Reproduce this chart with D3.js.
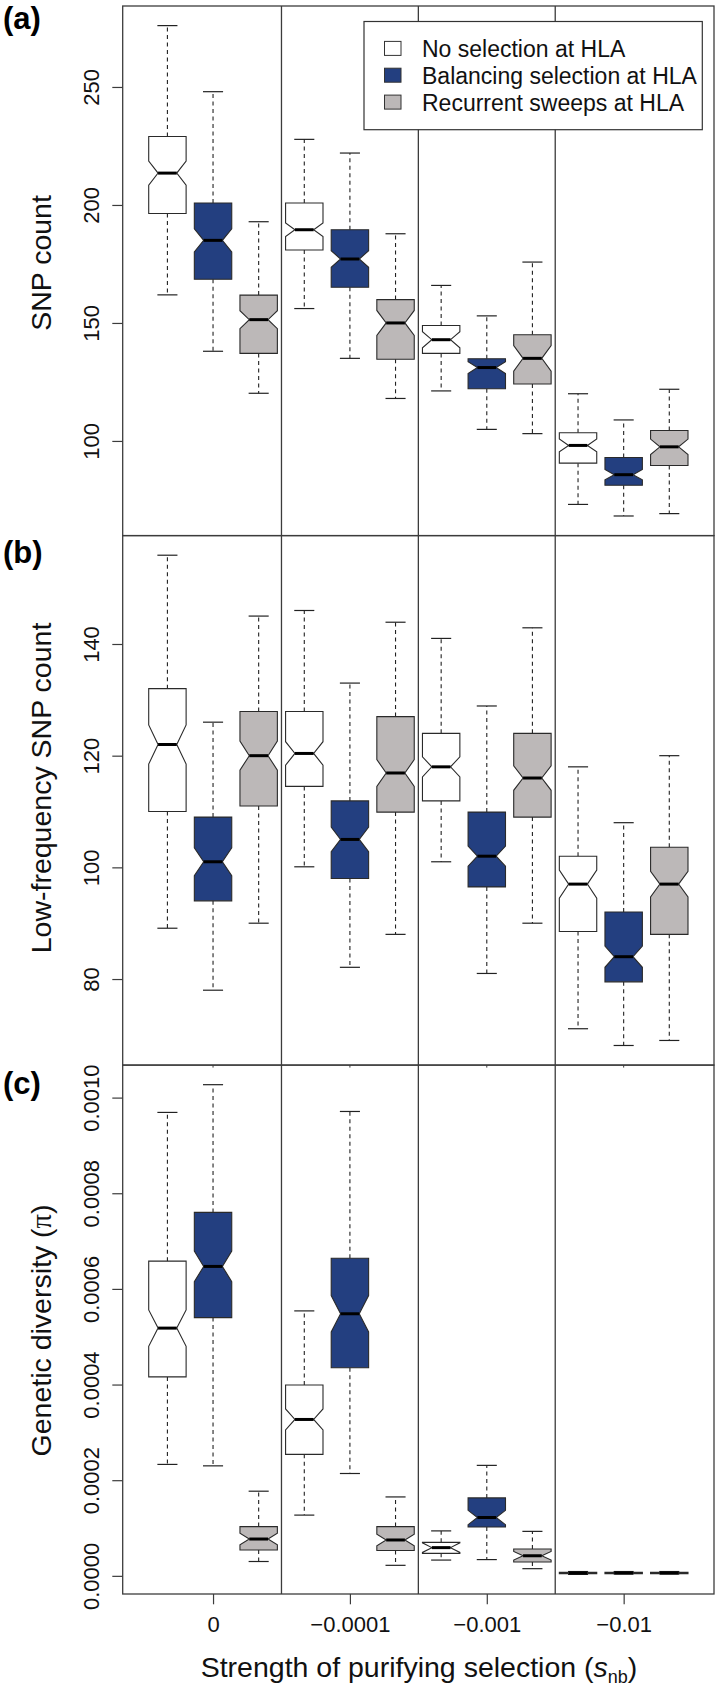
<!DOCTYPE html>
<html>
<head>
<meta charset="utf-8">
<script src="https://cdn.jsdelivr.net/npm/d3@7"></script>
<style>
  body { margin: 0; background: #fff; }
  text { font-family: "Liberation Sans", Arial, Helvetica, sans-serif; }
</style>
</head>
<body>
<svg id="chart" width="720" height="1691"></svg>
<script>
// ---------------- DATA ----------------
const groups = ["0", "\u22120.0001", "\u22120.001", "\u22120.01"];
const seriesNames = ["No selection at HLA", "Balancing selection at HLA", "Recurrent sweeps at HLA"];
// box order: for each group -> [No selection, Balancing, Recurrent sweeps]

// (a) SNP count
const snpLow   = [161.9, 138.0, 120.2, 156.1, 135.0, 118.0, 121.2, 104.9, 103.1, 73.1, 68.2, 69.2];
const snpQ1    = [196.4, 168.5, 137.1, 180.9, 165.1, 134.6, 137.1, 122.1, 124.1, 90.6, 81.2, 89.6];
const snpMed   = [213.5, 185.0, 151.4, 189.5, 177.1, 150.0, 142.9, 131.1, 135.0, 98.1, 85.7, 97.5];
const snpQ3    = [229.0, 200.8, 161.8, 200.8, 189.5, 159.9, 148.9, 134.8, 145.0, 103.5, 93.0, 104.4];
const snpHigh  = [276.0, 248.0, 192.9, 227.8, 222.0, 187.8, 165.9, 153.0, 175.8, 120.0, 108.9, 121.9];
const snpNotch = [5.1, 4.9, 3.8, 2.9, 3.5, 5.3, 3.4, 2.5, 5.4, 2.7, 2.2, 3.3];
const snpTicks = [100, 150, 200, 250];

// (b) Low-frequency SNP count
const lfLow   = [89.1, 78.0, 90.0, 100.1, 82.1, 88.0, 101.0, 81.0, 90.0, 71.1, 68.1, 69.0];
const lfQ1    = [110.0, 94.0, 111.0, 114.5, 98.0, 109.9, 111.9, 96.5, 109.0, 88.5, 79.5, 88.0];
const lfMed   = [122.0, 101.0, 120.0, 120.4, 105.0, 116.9, 118.0, 102.0, 116.0, 97.0, 84.0, 97.0];
const lfQ3    = [132.0, 109.0, 127.9, 127.9, 111.9, 127.0, 124.0, 109.9, 124.0, 102.0, 92.0, 103.6];
const lfHigh  = [155.9, 126.0, 145.0, 146.0, 133.0, 143.9, 141.0, 128.9, 142.9, 118.0, 108.0, 120.0];
const lfNotch = [3.5, 2.5, 2.6, 2.1, 2.2, 2.4, 1.8, 1.8, 2.2, 2.5, 1.9, 2.3];
const lfTicks = [80, 100, 120, 140];

// (c) Genetic diversity (pi)
const piLow   = [0.000233, 0.000230, 0.000030, 0.000127, 0.000214, 0.000022, 0.000033, 0.000034, 0.000015, 0.000003, 0.000004, 0.000004];
const piQ1    = [0.000416, 0.000540, 0.000054, 0.000254, 0.000435, 0.000053, 0.000047, 0.000102, 0.000029, 0.0000045, 0.0000045, 0.0000045];
const piMed   = [0.000518, 0.000647, 0.000077, 0.000327, 0.000548, 0.000075, 0.000059, 0.000122, 0.000042, 0.000006, 0.000006, 0.000006];
const piQ3    = [0.000658, 0.000760, 0.000103, 0.000399, 0.000664, 0.000103, 0.000070, 0.000163, 0.000056, 0.0000075, 0.0000075, 0.0000075];
const piHigh  = [0.000969, 0.001027, 0.000177, 0.000554, 0.000971, 0.000165, 0.000094, 0.000231, 0.000093, 0.000009, 0.000009, 0.000009];
const piNotch = [0.000038, 0.000032, 0.000012, 0.000022, 0.000038, 0.000012, 0.000010, 0.000015, 0.000009, 0.0000005, 0.0000005, 0.0000005];
const piTicks = [0, 0.0002, 0.0004, 0.0006, 0.0008, 0.0010];

// ---------------- STYLE / LAYOUT ----------------
const fills = ["#ffffff", "#233f80", "#bcb8b8"];
const frameColor = "#3c3c3c";
const boxStroke = "#2a2a2a";
const plotLeft = 122.7, plotRight = 714;
const boxHalf = 0.41, stapleHalf = 0.22;

const svg = d3.select("#chart");
svg.append("rect").attr("width", 720).attr("height", 1691).attr("fill", "#fff");

const x = d3.scaleLinear().domain([0.02, 12.98]).range([plotLeft, plotRight]);

function drawPanel(cfg) {
  const { top, bottom, low, q1, med, q3, high, notch, ticks, fmt } = cfg;
  const lo = d3.min(low), hi = d3.max(high), r = hi - lo;
  const y = d3.scaleLinear().domain([lo - 0.04 * r, hi + 0.04 * r]).range([bottom, top]);
  const g = svg.append("g");

  // group dividers
  [3.5, 6.5, 9.5].forEach(v => {
    g.append("line")
      .attr("x1", x(v)).attr("x2", x(v)).attr("y1", top).attr("y2", bottom)
      .attr("stroke", frameColor).attr("stroke-width", 1.3);
  });

  const w = x(boxHalf) - x(0), sw = x(stapleHalf) - x(0);
  const boxes = g.selectAll("g.box").data(d3.range(12)).join("g").attr("class", "box");
  boxes.each(function (i) {
    const s = d3.select(this);
    const cx = x(i + 1);
    // whiskers (dashed)
    s.append("line").attr("x1", cx).attr("x2", cx).attr("y1", y(q3[i])).attr("y2", y(high[i]))
      .attr("stroke", "#222").attr("stroke-width", 1.1).attr("stroke-dasharray", "4,3.5");
    s.append("line").attr("x1", cx).attr("x2", cx).attr("y1", y(q1[i])).attr("y2", y(low[i]))
      .attr("stroke", "#222").attr("stroke-width", 1.1).attr("stroke-dasharray", "4,3.5");
    // staples
    s.append("line").attr("x1", cx - sw).attr("x2", cx + sw).attr("y1", y(high[i])).attr("y2", y(high[i]))
      .attr("stroke", "#222").attr("stroke-width", 1.2);
    s.append("line").attr("x1", cx - sw).attr("x2", cx + sw).attr("y1", y(low[i])).attr("y2", y(low[i]))
      .attr("stroke", "#222").attr("stroke-width", 1.2);
    // notched box
    const nLo = y(med[i] - notch[i]), nHi = y(med[i] + notch[i]), m = y(med[i]);
    const pts = [
      [cx - w, y(q1[i])], [cx - w, nLo], [cx - w / 2, m], [cx - w, nHi], [cx - w, y(q3[i])],
      [cx + w, y(q3[i])], [cx + w, nHi], [cx + w / 2, m], [cx + w, nLo], [cx + w, y(q1[i])]
    ];
    s.append("polygon").attr("points", pts.map(p => p.join(",")).join(" "))
      .attr("fill", fills[i % 3]).attr("stroke", boxStroke).attr("stroke-width", 1.1)
      .attr("stroke-linejoin", "miter");
    // median
    s.append("line").attr("x1", cx - w / 2).attr("x2", cx + w / 2).attr("y1", m).attr("y2", m)
      .attr("stroke", "#000").attr("stroke-width", 3);
  });

  // frame
  g.append("rect").attr("x", plotLeft).attr("y", top)
    .attr("width", plotRight - plotLeft).attr("height", bottom - top)
    .attr("fill", "none").attr("stroke", frameColor).attr("stroke-width", 1.3);

  // y axis
  const ax = g.append("g").attr("transform", `translate(${plotLeft},0)`)
    .call(d3.axisLeft(y).tickValues(ticks).tickSize(10.4).tickFormat(fmt));
  ax.select(".domain").remove();
  ax.selectAll(".tick line").attr("stroke", frameColor).attr("stroke-width", 1.2);
  ax.selectAll(".tick text")
    .attr("x", 0).attr("y", -23.7).attr("dy", null)
    .attr("transform", "rotate(-90)")
    .attr("text-anchor", "middle")
    .attr("font-size", 22)
    .attr("font-family", "Liberation Sans, Arial, sans-serif")
    .attr("fill", "#111");
  ax.attr("font-family", null).attr("font-size", null);
  return { g, y };
}

const pA = drawPanel({ top: 6, bottom: 535.6, low: snpLow, q1: snpQ1, med: snpMed, q3: snpQ3, high: snpHigh, notch: snpNotch, ticks: snpTicks, fmt: d3.format("d") });
const pB = drawPanel({ top: 535.6, bottom: 1065.1, low: lfLow, q1: lfQ1, med: lfMed, q3: lfQ3, high: lfHigh, notch: lfNotch, ticks: lfTicks, fmt: d3.format("d") });
const pC = drawPanel({ top: 1065.1, bottom: 1594, low: piLow, q1: piQ1, med: piMed, q3: piQ3, high: piHigh, notch: piNotch, ticks: piTicks, fmt: d3.format(".4f") });

// tiny tick stubs at top of panel c
[2, 5, 8, 11].forEach(v => {
  svg.append("line").attr("x1", x(v)).attr("x2", x(v)).attr("y1", 1065.1).attr("y2", 1067.6)
    .attr("stroke", frameColor).attr("stroke-width", 1);
});

// x axis (bottom)
const xa = svg.append("g").attr("transform", "translate(0,1594)")
  .call(d3.axisBottom(x).tickValues([2, 5, 8, 11]).tickSize(10.3).tickFormat((d, i) => groups[i]));
xa.select(".domain").remove();
xa.selectAll(".tick line").attr("stroke", frameColor).attr("stroke-width", 1.2);
xa.selectAll(".tick text").attr("y", 37.7).attr("dy", null)
  .attr("font-size", 22).attr("font-family", "Liberation Sans, Arial, sans-serif").attr("fill", "#111");
xa.attr("font-family", null).attr("font-size", null);

// y titles
function yTitle(cy, build) {
  const t = svg.append("text").attr("transform", `translate(51,${cy}) rotate(-90)`)
    .attr("text-anchor", "middle").attr("font-size", 28.5).attr("fill", "#111");
  build(t);
}
yTitle(263, t => t.text("SNP count"));
yTitle(788, t => t.text("Low-frequency SNP count"));
yTitle(1330.5, t => {
  t.append("tspan").text("Genetic diversity (");
  t.append("tspan").attr("font-family", "Liberation Serif, DejaVu Serif, serif").text("\u03c0");
  t.append("tspan").text(")");
});

// x title
const xt = svg.append("text").attr("x", 419).attr("y", 1676.7).attr("text-anchor", "middle")
  .attr("font-size", 28.5).attr("fill", "#111");
xt.append("tspan").text("Strength of purifying selection (");
xt.append("tspan").attr("font-style", "italic").text("s");
xt.append("tspan").attr("font-size", 18).attr("dy", 6).text("nb");
xt.append("tspan").attr("dy", -6).text(")");

// panel labels
[["a", 29], ["b", 563], ["c", 1094]].forEach(([l, by]) => {
  svg.append("text").attr("x", 3).attr("y", by).attr("font-size", 31).attr("font-weight", "bold")
    .attr("fill", "#000").text("(" + l + ")");
});

// legend
const lg = svg.append("g");
lg.append("rect").attr("x", 364).attr("y", 21.5).attr("width", 338.3).attr("height", 108.2)
  .attr("fill", "#fff").attr("stroke", "#333").attr("stroke-width", 1.2);
const legendRowsY = [48.4, 75.2, 102.1];
seriesNames.forEach((name, i) => {
  lg.append("rect").attr("x", 384.5).attr("y", legendRowsY[i] - 7).attr("width", 16.5).attr("height", 14)
    .attr("fill", fills[i]).attr("stroke", "#333").attr("stroke-width", 1);
  lg.append("text").attr("x", 422).attr("y", legendRowsY[i] + 8.4).attr("font-size", 23).attr("fill", "#111")
    .text(name);
});
</script>
</body>
</html>
